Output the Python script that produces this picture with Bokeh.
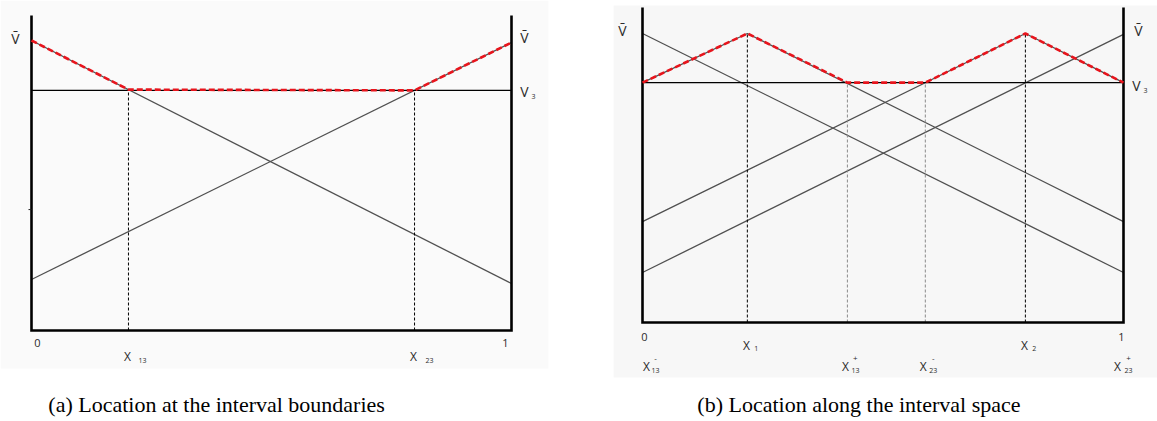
import math
import numpy as np
from bokeh.plotting import figure
from bokeh.models import Range1d, Label, BoxAnnotation
from bokeh.layouts import row
from bokeh.embed import file_html
from bokeh.resources import INLINE

# ---------------- panel (a) data ----------------
a_x = [0.0, 1.0]
a_line1 = [1.00, 0.162]     # descending line
a_line2 = [0.176, 0.993]    # ascending line
a_vbar = 1.0
a_v3 = 0.828
a_x13 = 0.202
a_x23 = 0.798
a_left_tick = 0.417
a_axis_top = 1.086

# ---------------- panel (b) data ----------------
b_x = [0.0, 1.0]
b_vbar = 1.0
b_v3 = 0.830
b_low = 0.349
b_x1 = 0.218
b_x2 = 0.796
b_x13p = 0.426
b_x23m = 0.588
b_tent1_x = [0.0, b_x1, 1.0]
b_tent1_y = [b_v3, b_vbar, b_low]
b_tent2_x = [0.0, b_x2, 1.0]
b_tent2_y = [b_low, b_vbar, b_v3]
b_lineA = [1.0, 0.173]
b_lineB = [0.173, 0.997]
b_axis_top = 1.090

caption_a = "(a) Location at the interval boundaries"
caption_b = "(b) Location along the interval space"

GRAY = "#505050"
RED = "#e8141c"
SANS = "Open Sans"
SERIF = "Liberation Serif"


def base_fig(width, height, xr, yr):
    p = figure(width=width, height=height, x_range=Range1d(*xr), y_range=Range1d(*yr),
               output_backend="svg", toolbar_location=None, title=None,
               x_axis_location=None, y_axis_location=None,
               min_border_left=0, min_border_right=0, min_border_top=0, min_border_bottom=0)
    p.grid.visible = False
    p.outline_line_color = None
    p.background_fill_color = "white"
    p.border_fill_color = "white"
    return p


def draw_box(p, top):
    # left axis, bottom axis, right axis of the diagram
    p.line([0, 0, 1, 1], [top, 0, 0, top], line_color="black", line_width=2.6,
           line_join="miter")


def lab(p, x, y, text, dx=0, dy=0, size="12px", align="center", color="#2a2a2a", font=SANS):
    p.add_layout(Label(x=x, y=y, x_offset=dx, y_offset=dy, text=text, text_align=align,
                       text_baseline="middle", text_font=font, text_font_size=size,
                       text_color=color))


# ======================= panel (a) =======================
pa = base_fig(580, 421, (-31 / 480, 549 / 480), (-91 / 290, 330 / 290))
pa.add_layout(BoxAnnotation(right=1.077, bottom=-0.131, fill_color="#fafafa",
                            fill_alpha=1, line_color=None, level="underlay"))

pa.line(a_x, a_line1, line_color=GRAY, line_width=1.3)
pa.line(a_x, a_line2, line_color=GRAY, line_width=1.3)
pa.line(a_x, [a_v3, a_v3], line_color="black", line_width=1.2)

a_env_x = np.array([0.0, a_x13, a_x23, 1.0])
a_env_y = np.maximum.reduce([np.interp(a_env_x, a_x, a_line1),
                             np.interp(a_env_x, a_x, a_line2),
                             np.full(len(a_env_x), a_v3)])
a_vx = [a_x13, a_x23]
pa.segment(x0=a_vx, y0=[0, 0], x1=a_vx, y1=list(np.interp(a_vx, a_env_x, a_env_y)),
           line_color="black", line_width=1, line_dash="3 2")
draw_box(pa, a_axis_top)
pa.ray(x=[0], y=[a_left_tick], length=3, length_units="screen", angle=math.pi,
       line_color="#222", line_width=1)
pa.line(a_env_x, a_env_y, line_color=RED, line_width=2.6, line_dash="6 3")

lab(pa, 0, a_vbar, "V\u0304", dx=-16, dy=2, size="14px")
lab(pa, 1, a_vbar, "V\u0304", dx=13, dy=3, size="14px")
lab(pa, 1, a_v3, "V", dx=13, dy=-1, size="14px")
lab(pa, 1, a_v3, "3", dx=22, dy=-6, size="7px")
lab(pa, 0, 0, "0", dx=6, dy=-12, size="11px")
lab(pa, 1, 0, "1", dx=-6, dy=-12, size="11px")
lab(pa, a_x13, 0, "X", dx=-1, dy=-26, size="12px")
lab(pa, a_x13, 0, "13", dx=14, dy=-30, size="7px")
lab(pa, a_x23, 0, "X", dx=-1, dy=-26, size="12px")
lab(pa, a_x23, 0, "23", dx=15, dy=-30, size="7px")
lab(pa, 0.035, 0, caption_a, dx=0, dy=-74, size="22px", align="left", color="black", font=SERIF)

# ======================= panel (b) =======================
pb = base_fig(577, 421, (-62 / 481, 515 / 481), (-99 / 289, 322 / 289))
pb.add_layout(BoxAnnotation(left=-0.060, top=1.097, bottom=-0.190, fill_color="#f7f7f7",
                            fill_alpha=1, line_color=None, level="underlay"))

pb.line(b_x, b_lineA, line_color=GRAY, line_width=1.3)
pb.line(b_x, b_lineB, line_color=GRAY, line_width=1.3)
pb.line(b_tent1_x, b_tent1_y, line_color=GRAY, line_width=1.3)
pb.line(b_tent2_x, b_tent2_y, line_color=GRAY, line_width=1.3)
pb.line(b_x, [b_v3, b_v3], line_color="black", line_width=1.2)

b_env_x = np.array([0.0, b_x1, b_x13p, b_x23m, b_x2, 1.0])
b_env_y = np.maximum.reduce([np.interp(b_env_x, b_tent1_x, b_tent1_y),
                             np.interp(b_env_x, b_tent2_x, b_tent2_y),
                             np.full(len(b_env_x), b_v3)])
bk = [b_x1, b_x2]
gr = [b_x13p, b_x23m]
pb.segment(x0=bk, y0=[0, 0], x1=bk, y1=list(np.interp(bk, b_env_x, b_env_y)),
           line_color="black", line_width=1, line_dash="3 2")
pb.segment(x0=gr, y0=[0, 0], x1=gr, y1=list(np.interp(gr, b_env_x, b_env_y)),
           line_color="#8a8a8a", line_width=1, line_dash="3 2")
draw_box(pb, b_axis_top)
pb.line(b_env_x, b_env_y, line_color=RED, line_width=2.6, line_dash="6 3")

lab(pb, 0, b_vbar, "V\u0304", dx=-20, dy=3, size="14px")
lab(pb, 1, b_vbar, "V\u0304", dx=15, dy=3, size="14px")
lab(pb, 1, b_v3, "V", dx=13, dy=-3, size="14px")
lab(pb, 1, b_v3, "3", dx=22, dy=-8, size="7px")
lab(pb, 0, 0, "0", dx=2, dy=-14, size="11px")
lab(pb, 1, 0, "1", dx=-2, dy=-14, size="11px")
for xv, sub in [(b_x1, "1"), (b_x2, "2")]:
    lab(pb, xv, 0, "X", dx=-1, dy=-23, size="12px")
    lab(pb, xv, 0, sub, dx=9, dy=-26, size="7px")
for xv, sub, sup, dxx, dxs in [(0.0, "13", "-", 4, 13), (b_x13p, "13", "+", -2, 8),
                               (b_x23m, "23", "-", -2, 8), (1.0, "23", "+", -6, 5)]:
    lab(pb, xv, 0, "X", dx=dxx, dy=-44, size="12px")
    lab(pb, xv, 0, sub, dx=dxs, dy=-48, size="7px")
    lab(pb, xv, 0, sup, dx=dxs, dy=-36, size="8px")
lab(pb, 0.114, 0, caption_b, dx=0, dy=-82, size="22px", align="left", color="black", font=SERIF)

layout = row(pa, pb)
open("out.html", "w").write(file_html(layout, INLINE))
